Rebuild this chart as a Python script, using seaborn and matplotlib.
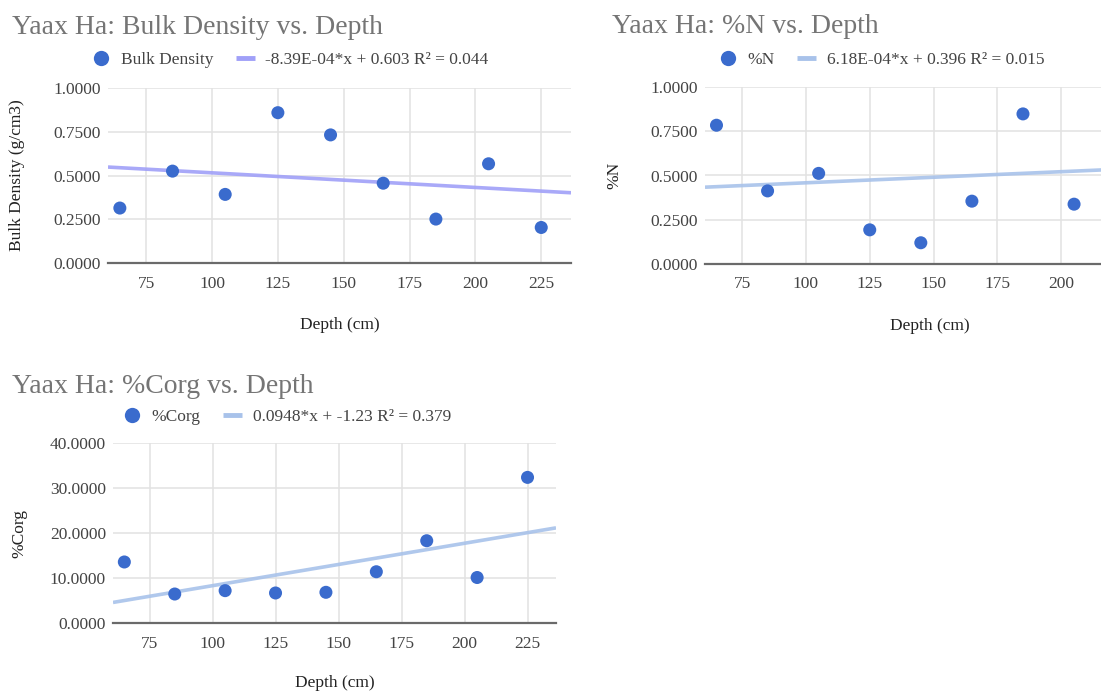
import matplotlib
matplotlib.use("Agg")
import matplotlib.pyplot as plt
import seaborn as sns
import pandas as pd
from matplotlib.lines import Line2D

# ---------------- data ----------------
depth = [65, 85, 105, 125, 145, 165, 185, 205, 225]
bulk_density = [0.314, 0.525, 0.392, 0.859, 0.732, 0.456, 0.251, 0.567, 0.203]
pct_n = [0.784, 0.413, 0.512, 0.193, 0.120, 0.355, 0.848, 0.338, 0.82]
pct_corg = [13.56, 6.44, 7.19, 6.67, 6.82, 11.39, 18.28, 10.11, 32.36]

titles = ["Yaax Ha: Bulk Density vs. Depth", "Yaax Ha: %N vs. Depth",
          "Yaax Ha: %Corg vs. Depth"]
series_names = ["Bulk Density", "%N", "%Corg"]
y_labels = ["Bulk Density (g/cm3)", "%N", "%Corg"]
trend_labels = ["-8.39E-04*x + 0.603 R\u00b2 = 0.044",
                "6.18E-04*x + 0.396 R\u00b2 = 0.015",
                "0.0948*x + -1.23 R\u00b2 = 0.379"]
x_label = "Depth (cm)"
x_ticks = [75, 100, 125, 150, 175, 200, 225]
y_ticks_frac = [0.0, 0.25, 0.5, 0.75, 1.0]
y_ticks_corg = [0, 10, 20, 30, 40]

# ---------------- style ----------------
sns.set_theme(style="white")
plt.rcParams["font.family"] = ["Liberation Serif", "DejaVu Serif"]

POINT = "#3a6bcd"
TREND_PURPLE = "#a0a0f8"
TREND_BLUE = "#a8c2ea"
TXT = "#444444"
FS = 12.5
XMIN, XMAX = 60.5, 236.3

W, H = 1101, 695
fig = plt.figure(figsize=(W / 100, H / 100), dpi=100)


def fx(px):
    return px / W


def fy(py):
    return 1 - py / H


def panel(rect, yvals, name, ylabel, yticks, trend_label, tcolor,
          title, title_xy, legend_xy, ylabel_x, xlabel_y):
    l, t, r, b = rect
    ax = fig.add_axes([fx(l), fy(b), (r - l) / W, (b - t) / H])
    ax.set_xlim(XMIN, XMAX)
    ax.set_ylim(yticks[0], yticks[-1])
    df = pd.DataFrame({"depth": depth, "val": yvals})
    sns.regplot(data=df, x="depth", y="val", ax=ax, scatter=False, ci=None,
                truncate=False,
                line_kws=dict(color=tcolor, lw=2.6, alpha=0.9, zorder=2,
                              solid_capstyle="butt"))
    sns.scatterplot(data=df, x="depth", y="val", ax=ax, s=88, color=POINT,
                    edgecolor="none", linewidth=0, zorder=3, legend=False)
    ax.set_xlim(XMIN, XMAX)
    ax.set_ylim(yticks[0], yticks[-1])
    # only ticks whose label falls inside the visible canvas
    px_per_unit = (r - l) / (XMAX - XMIN)
    vis_ticks = [v for v in x_ticks if l + (v - XMIN) * px_per_unit + 14 < W]
    ax.set_xticks(vis_ticks)
    ax.set_yticks(yticks)
    ax.set_yticklabels([f"{v:.4f}" for v in yticks])
    ax.grid(True, color="#e2e2e2", lw=1.1)
    ax.set_axisbelow(True)
    for s in ["top", "right", "left"]:
        ax.spines[s].set_visible(False)
    ax.spines["bottom"].set_color("#6a6a6a")
    ax.spines["bottom"].set_linewidth(1.6)
    ax.spines["bottom"].set_zorder(2.5)
    ax.tick_params(axis="both", length=0, labelsize=FS, labelcolor=TXT)
    ax.tick_params(axis="x", pad=9)
    ax.tick_params(axis="y", pad=5)
    ax.set_xlabel(x_label, fontsize=FS, color="#222222")
    ax.set_ylabel(ylabel, fontsize=FS, color="#222222")
    ax.xaxis.set_label_coords(0.5, -(xlabel_y - b) / (b - t))
    ax.yaxis.set_label_coords((ylabel_x - l) / (r - l), 0.5)

    fig.text(fx(title_xy[0]), fy(title_xy[1]), title, fontsize=20,
             color="#757575", ha="left", va="baseline")

    handles = [Line2D([], [], marker="o", ls="", ms=11, color=POINT,
                      markeredgewidth=0),
               Line2D([], [], color=tcolor, lw=3.5, solid_capstyle="butt")]
    fig.legend(handles=handles, labels=[name, trend_label], ncol=2,
               loc="center left", bbox_to_anchor=(fx(legend_xy[0]), fy(legend_xy[1])),
               bbox_transform=fig.transFigure, frameon=False, fontsize=FS,
               labelcolor=TXT, handlelength=1.1, handletextpad=0.6,
               columnspacing=1.3, borderpad=0, borderaxespad=0)
    return ax


panel((108, 88, 571, 263), bulk_density, series_names[0], y_labels[0],
      y_ticks_frac, trend_labels[0], TREND_PURPLE, titles[0],
      (12, 34), (91, 60), 25, 317)
panel((705, 87, 1154, 264), pct_n, series_names[1], y_labels[1],
      y_ticks_frac, trend_labels[1], TREND_BLUE, titles[1],
      (612, 33), (718, 60), 622, 318)
panel((113, 443, 556, 623), pct_corg, series_names[2], y_labels[2],
      y_ticks_corg, trend_labels[2], TREND_BLUE, titles[2],
      (12, 393), (122, 417), 27, 675)

fig.savefig("out.png", dpi=100)
